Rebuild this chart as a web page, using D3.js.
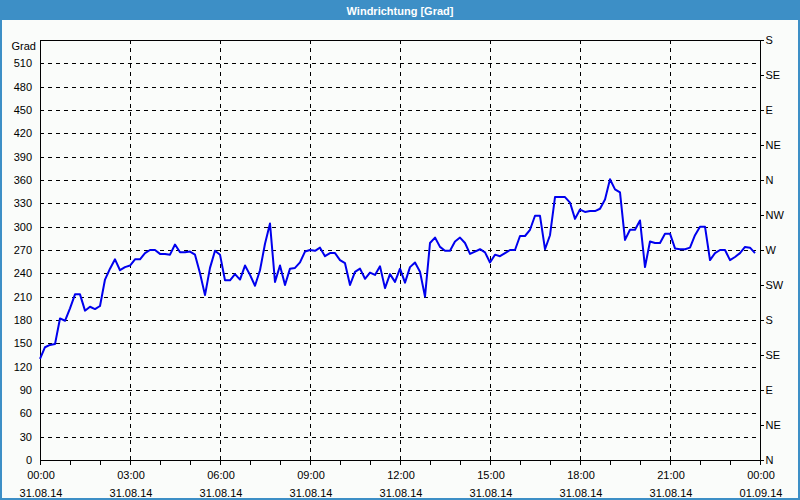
<!DOCTYPE html>
<html><head><meta charset="utf-8">
<script src="https://cdn.jsdelivr.net/npm/d3@7"></script>
<style>
html,body{margin:0;padding:0;background:#fff;}
svg{display:block;font-family:"Liberation Sans",Arial,sans-serif;}
</style></head>
<body><svg id="c" width="800" height="500"></svg>
<script>
const title = "Windrichtung [Grad]";
const yUnit = "Grad";
const startTime = "2014-08-31T00:00:00";
const stepMinutes = 10;
const values = [130,145,148,149,182,179,195,213,213,192,197,194,198,232,246,258,244,248,250,258,
258,266,270,270,265,265,264,277,267,267,268,264,240,212,247,269,264,231,231,239,
232,250,238,224,244,278,304,229,250,225,246,247,254,268,270,269,273,262,266,266,
257,253,225,242,246,233,241,238,249,221,239,229,246,228,248,254,242,210,279,286,
274,269,269,281,286,279,265,268,271,267,254,264,262,266,270,270,288,288,296,314,
314,271,289,338,338,338,331,310,322,319,320,320,323,335,361,348,344,283,296,296,
308,248,281,279,279,291,291,272,271,271,273,289,300,300,257,266,270,270,257,261,
266,274,273,266];
const yTicks = [0,30,60,90,120,150,180,210,240,270,300,330,360,390,420,450,480,510];
const dirTicks = [0,45,90,135,180,225,270,315,360,405,450,495,540];
const dirLabels = ["N","NE","E","SE","S","SW","W","NW","N","NE","E","SE","S"];
const xMajorHours = [0,3,6,9,12,15,18,21,24];

const svg = d3.select("#c");
const W=800,H=500;
const L=40,R=760,T=40,B=460;
const t0 = new Date(startTime);
const t1 = d3.timeDay.offset(t0,1);
const data = values.map((v,i)=>({t:d3.timeMinute.offset(t0,i*stepMinutes),v}));
const x = d3.scaleTime().domain([t0,t1]).range([L,R]);
const y = d3.scaleLinear().domain([0,540]).range([B,T]);

// window background and frame
svg.append("rect").attr("x",0).attr("y",0).attr("width",W).attr("height",H).attr("fill","#fafcfa");
svg.append("rect").attr("x",1).attr("y",1).attr("width",W-2).attr("height",H-2).attr("fill","none").attr("stroke","#3d8fc6").attr("stroke-width",2);
svg.append("rect").attr("x",0).attr("y",0).attr("width",W).attr("height",20).attr("fill","#3d8fc6");
svg.append("text").attr("x",W/2).attr("y",14.5).attr("text-anchor","middle").attr("fill","#fff")
  .attr("font-size",11).attr("font-weight","bold").text(title);

// grid
const g = svg.append("g");
g.selectAll("line.hg").data(yTicks.filter(d=>d>0)).join("line")
  .attr("x1",L).attr("x2",R).attr("y1",d=>Math.round(y(d))+0.5).attr("y2",d=>Math.round(y(d))+0.5)
  .attr("stroke","#000").attr("stroke-width",1).attr("stroke-dasharray","4,4").attr("shape-rendering","crispEdges");
const majors = xMajorHours.map(h=>d3.timeHour.offset(t0,h));
g.selectAll("line.vg").data(majors.slice(1,-1)).join("line")
  .attr("x1",d=>Math.round(x(d))+0.5).attr("x2",d=>Math.round(x(d))+0.5).attr("y1",T).attr("y2",B)
  .attr("stroke","#000").attr("stroke-width",1).attr("stroke-dasharray","4,4").attr("shape-rendering","crispEdges");

// plot frame
svg.append("rect").attr("x",L+0.5).attr("y",T+0.5).attr("width",R-L).attr("height",B-T)
  .attr("fill","none").attr("stroke","#000").attr("stroke-width",1).attr("shape-rendering","crispEdges");

// left axis labels
const yAxis = d3.axisLeft(y).tickValues(yTicks).tickSize(0).tickPadding(8);
const ya = svg.append("g").attr("transform",`translate(${L},0)`).call(yAxis);
ya.select(".domain").remove();
ya.selectAll("text").attr("font-size",11).attr("fill","#000").attr("font-family","Liberation Sans, Arial, sans-serif");
svg.append("text").attr("x",L-4).attr("y",T+10).attr("text-anchor","end").attr("font-size",11).text(yUnit);

// right axis
const yR = d3.axisRight(y).tickValues(dirTicks).tickSize(3).tickPadding(2).tickFormat((d,i)=>dirLabels[i]);
const ra = svg.append("g").attr("transform",`translate(${R+0.5},0)`).call(yR);
ra.select(".domain").remove();
ra.selectAll("line").attr("stroke","#000").attr("shape-rendering","crispEdges");
ra.selectAll("text").attr("font-size",11).attr("fill","#000").attr("font-family","Liberation Sans, Arial, sans-serif");

// bottom axis minor ticks (hourly)
const xa = d3.axisBottom(x).ticks(d3.timeHour.every(1)).tickSize(4).tickFormat("");
const xg = svg.append("g").attr("transform",`translate(0,${B+0.5})`).call(xa);
xg.select(".domain").remove();
xg.selectAll("line").attr("stroke","#000").attr("shape-rendering","crispEdges");
// bottom labels
const fTime = d3.timeFormat("%H:%M"), fDate = d3.timeFormat("%d.%m.%y");
const lab = svg.append("g").attr("font-size",11).attr("text-anchor","middle");
lab.selectAll("text.t").data(majors).join("text").attr("x",d=>x(d)+1).attr("y",479).text(d=>fTime(d));
lab.selectAll("text.d").data(majors).join("text").attr("x",d=>x(d)+1).attr("y",497).text(d=>fDate(d));

// line
svg.append("path").datum(data)
  .attr("d",d3.line().x(d=>x(d.t)).y(d=>y(d.v)))
  .attr("fill","none").attr("stroke","#0000ee").attr("stroke-width",2).attr("stroke-linejoin","round");
</script></body></html>
